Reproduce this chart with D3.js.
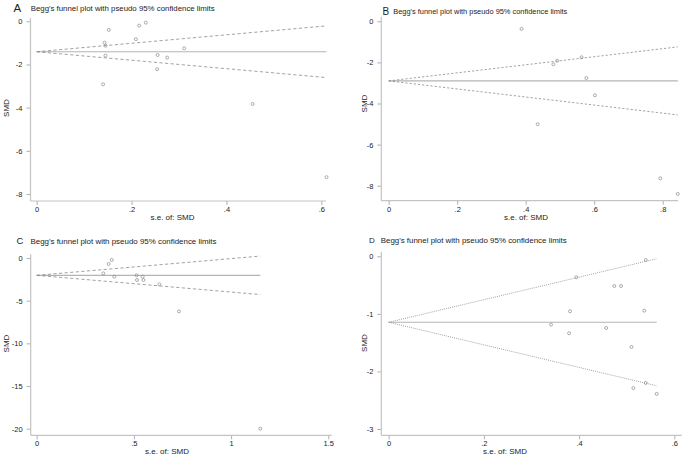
<!DOCTYPE html>
<html>
<head>
<meta charset="utf-8">
<script src="https://cdn.jsdelivr.net/npm/d3@7"></script>
<style>
  html, body { margin: 0; padding: 0; background: #fff; }
  svg { display: block; font-family: "Liberation Sans", Arial, sans-serif; }
</style>
</head>
<body>
<svg id="chart" width="685" height="455"></svg>
<script>
// ---------------- DATA ----------------
const panelLetters = ["A", "B", "C", "D"];
const titleText = "Begg's funnel plot with pseudo 95% confidence limits";
const yAxisLabel = "SMD";
const xAxisLabel = "s.e. of: SMD";

// Panel A
const seA  = [0.152, 0.216, 0.230, 0.143, 0.145, 0.209, 0.311, 0.145, 0.255, 0.275, 0.254, 0.140, 0.455, 0.611];
const smdA = [-0.40, -0.20, -0.06, -0.99, -1.13, -0.83, -1.25, -1.59, -1.56, -1.68, -2.22, -2.92, -3.83, -7.22];
const pooledA = -1.41;
const xTicksA = [0, 0.2, 0.4, 0.6];
const xTickLabelsA = ["0", ".2", ".4", ".6"];
const yTicksA = [0, -2, -4, -6, -8];
const yTickLabelsA = ["0", "-2", "-4", "-6", "-8"];

// Panel B
const seB  = [0.388, 0.563, 0.492, 0.481, 0.577, 0.602, 0.435, 0.793, 0.844];
const smdB = [-0.37, -1.75, -1.92, -2.09, -2.76, -3.60, -5.01, -7.64, -8.40];
const pooledB = -2.90;
const xTicksB = [0, 0.2, 0.4, 0.6, 0.8];
const xTickLabelsB = ["0", ".2", ".4", ".6", ".8"];
const yTicksB = [0, -2, -4, -6, -8];
const yTickLabelsB = ["0", "-2", "-4", "-6", "-8"];

// Panel C
const seC  = [0.386, 0.370, 0.343, 0.399, 0.514, 0.516, 0.545, 0.549, 0.631, 0.732, 1.150];
const smdC = [-0.23, -0.70, -1.80, -2.19, -2.03, -2.58, -2.19, -2.58, -3.09, -6.25, -20.0];
const pooledC = -2.03;
const xTicksC = [0, 0.5, 1, 1.5];
const xTickLabelsC = ["0", ".5", "1", "1.5"];
const yTicksC = [0, -5, -10, -15, -20];
const yTickLabelsC = ["0", "-5", "-10", "-15", "-20"];

// Panel D
const seD  = [0.540, 0.394, 0.474, 0.488, 0.381, 0.537, 0.341, 0.457, 0.379, 0.510, 0.540, 0.514, 0.563];
const smdD = [-0.064, -0.365, -0.516, -0.516, -0.955, -0.944, -1.187, -1.245, -1.337, -1.575, -2.20, -2.29, -2.39];
const pooledD = -1.146;
const xTicksD = [0, 0.2, 0.4, 0.6];
const xTickLabelsD = ["0", ".2", ".4", ".6"];
const yTicksD = [0, -1, -2, -3];
const yTickLabelsD = ["0", "-1", "-2", "-3"];

const z95 = 1.96;

// ---------------- LAYOUT ----------------
const panels = [
  { letter: panelLetters[0], se: seA, smd: smdA, pooled: pooledA,
    xTicks: xTicksA, xLabels: xTickLabelsA, yTicks: yTicksA, yLabels: yTickLabelsA,
    xDom: [0, 0.6], xRng: [36.7, 321.3], yDom: [0, -8], yRng: [21.3, 194],
    axisX: 30.5, axisY: 201, axisRight: 326, axisTop: 18,
    letterX: 13.5, letterY: 12.3, letterSize: 11.5, titleX: 30.7, titleY: 11, titleW: 184,
    yLabX: 8.5, yLabY: 108, xLabX: 172.5, xLabY: 219.5, dash: "3.2,2.4" },
  { letter: panelLetters[1], se: seB, smd: smdB, pooled: pooledB,
    xTicks: xTicksB, xLabels: xTickLabelsB, yTicks: yTicksB, yLabels: yTickLabelsB,
    xDom: [0, 0.8], xRng: [388.7, 662.7], yDom: [0, -8], yRng: [21.3, 185.7],
    axisX: 381.3, axisY: 200.7, axisRight: 678, axisTop: 16.7,
    letterX: 382.5, letterY: 14.5, letterSize: 10, titleX: 393.3, titleY: 13.5, titleW: 174,
    yLabX: 366.5, yLabY: 103.5, xLabX: 526, xLabY: 219.5, dash: "2.2,2" },
  { letter: panelLetters[2], se: seC, smd: smdC, pooled: pooledC,
    xTicks: xTicksC, xLabels: xTickLabelsC, yTicks: yTicksC, yLabels: yTickLabelsC,
    xDom: [0, 1.5], xRng: [36.7, 328.3], yDom: [0, -20], yRng: [258, 428.7],
    axisX: 30.7, axisY: 435.3, axisRight: 331.7, axisTop: 254.3,
    letterX: 16.5, letterY: 244.3, letterSize: 9.5, titleX: 30.5, titleY: 243.7, titleW: 186,
    yLabX: 8.5, yLabY: 343.5, xLabX: 167, xLabY: 453.6, dash: "3.2,2.4" },
  { letter: panelLetters[3], se: seD, smd: smdD, pooled: pooledD,
    xTicks: xTicksD, xLabels: xTickLabelsD, yTicks: yTicksD, yLabels: yTickLabelsD,
    xDom: [0, 0.6], xRng: [388.7, 674.3], yDom: [0, -3], yRng: [256.3, 429],
    axisX: 381.3, axisY: 435.3, axisRight: 681.7, axisTop: 251.7,
    letterX: 369, letterY: 243.3, letterSize: 8, titleX: 380.7, titleY: 242.7, titleW: 186,
    yLabX: 367, yLabY: 343, xLabX: 505, xLabY: 453.6, dash: "1,1.1" }
];

const textColor = "#222";
const axisColor = "#c4c4c4";
const tickColor = "#777";

const svg = d3.select("#chart");

panels.forEach(p => {
  const x = d3.scaleLinear().domain(p.xDom).range(p.xRng);
  const y = d3.scaleLinear().domain(p.yDom).range(p.yRng);
  const g = svg.append("g");

  // Titles
  g.append("text").attr("x", p.letterX).attr("y", p.letterY)
    .attr("font-size", p.letterSize).attr("fill", textColor).text(p.letter);
  g.append("text").attr("x", p.titleX).attr("y", p.titleY)
    .attr("font-size", 8).attr("fill", textColor)
    .attr("textLength", p.titleW).attr("lengthAdjust", "spacingAndGlyphs")
    .text(titleText);

  // Axes
  const xAxis = d3.axisBottom(x).tickValues(p.xTicks)
    .tickFormat((d, i) => p.xLabels[i]).tickSize(4).tickPadding(1.5).tickSizeOuter(0);
  const gx = g.append("g").attr("transform", `translate(0,${p.axisY})`).call(xAxis);
  gx.select(".domain").remove();
  gx.selectAll(".tick line").attr("stroke", tickColor).attr("stroke-width", 0.6);
  gx.selectAll(".tick text").attr("font-size", 7.5).attr("fill", textColor)
    .attr("font-family", "Liberation Sans, Arial, sans-serif");

  const yAxis = d3.axisLeft(y).tickValues(p.yTicks)
    .tickFormat((d, i) => p.yLabels[i]).tickSize(4).tickPadding(4).tickSizeOuter(0);
  const gy = g.append("g").attr("transform", `translate(${p.axisX},0)`).call(yAxis);
  gy.select(".domain").remove();
  gy.selectAll(".tick line").attr("stroke", tickColor).attr("stroke-width", 0.6);
  gy.selectAll(".tick text").attr("font-size", 7.5).attr("fill", textColor)
    .attr("font-family", "Liberation Sans, Arial, sans-serif");

  g.append("line").attr("x1", p.axisX).attr("x2", p.axisRight)
    .attr("y1", p.axisY).attr("y2", p.axisY)
    .attr("stroke", axisColor).attr("stroke-width", 1.2);
  g.append("line").attr("x1", p.axisX).attr("x2", p.axisX)
    .attr("y1", p.axisTop).attr("y2", p.axisY)
    .attr("stroke", axisColor).attr("stroke-width", 1.2);

  // Axis labels
  g.append("text").attr("x", p.xLabX).attr("y", p.xLabY)
    .attr("text-anchor", "middle").attr("font-size", 8).attr("fill", textColor)
    .text(xAxisLabel);
  g.append("text")
    .attr("transform", `translate(${p.yLabX},${p.yLabY}) rotate(-90)`)
    .attr("text-anchor", "middle").attr("font-size", 8).attr("fill", textColor)
    .text(yAxisLabel);

  // Funnel lines
  const maxSe = d3.max(p.se);
  g.append("line")
    .attr("x1", x(0)).attr("x2", x(maxSe))
    .attr("y1", y(p.pooled)).attr("y2", y(p.pooled))
    .attr("stroke", "#b4b4b4").attr("stroke-width", 1.1);
  [1, -1].forEach(sgn => {
    g.append("line")
      .attr("x1", x(0)).attr("y1", y(p.pooled))
      .attr("x2", x(maxSe)).attr("y2", y(p.pooled + sgn * z95 * maxSe))
      .attr("stroke", "#8a8a8a").attr("stroke-width", 0.8)
      .attr("stroke-dasharray", p.dash);
  });

  // Points
  g.selectAll("circle.pt").data(p.se.map((s, i) => ({ s, v: p.smd[i] })))
    .join("circle").attr("class", "pt")
    .attr("cx", d => x(d.s)).attr("cy", d => y(d.v)).attr("r", 1.5)
    .attr("fill", "none").attr("stroke", "#8a8a8a").attr("stroke-width", 0.7);
});
</script>
</body>
</html>
